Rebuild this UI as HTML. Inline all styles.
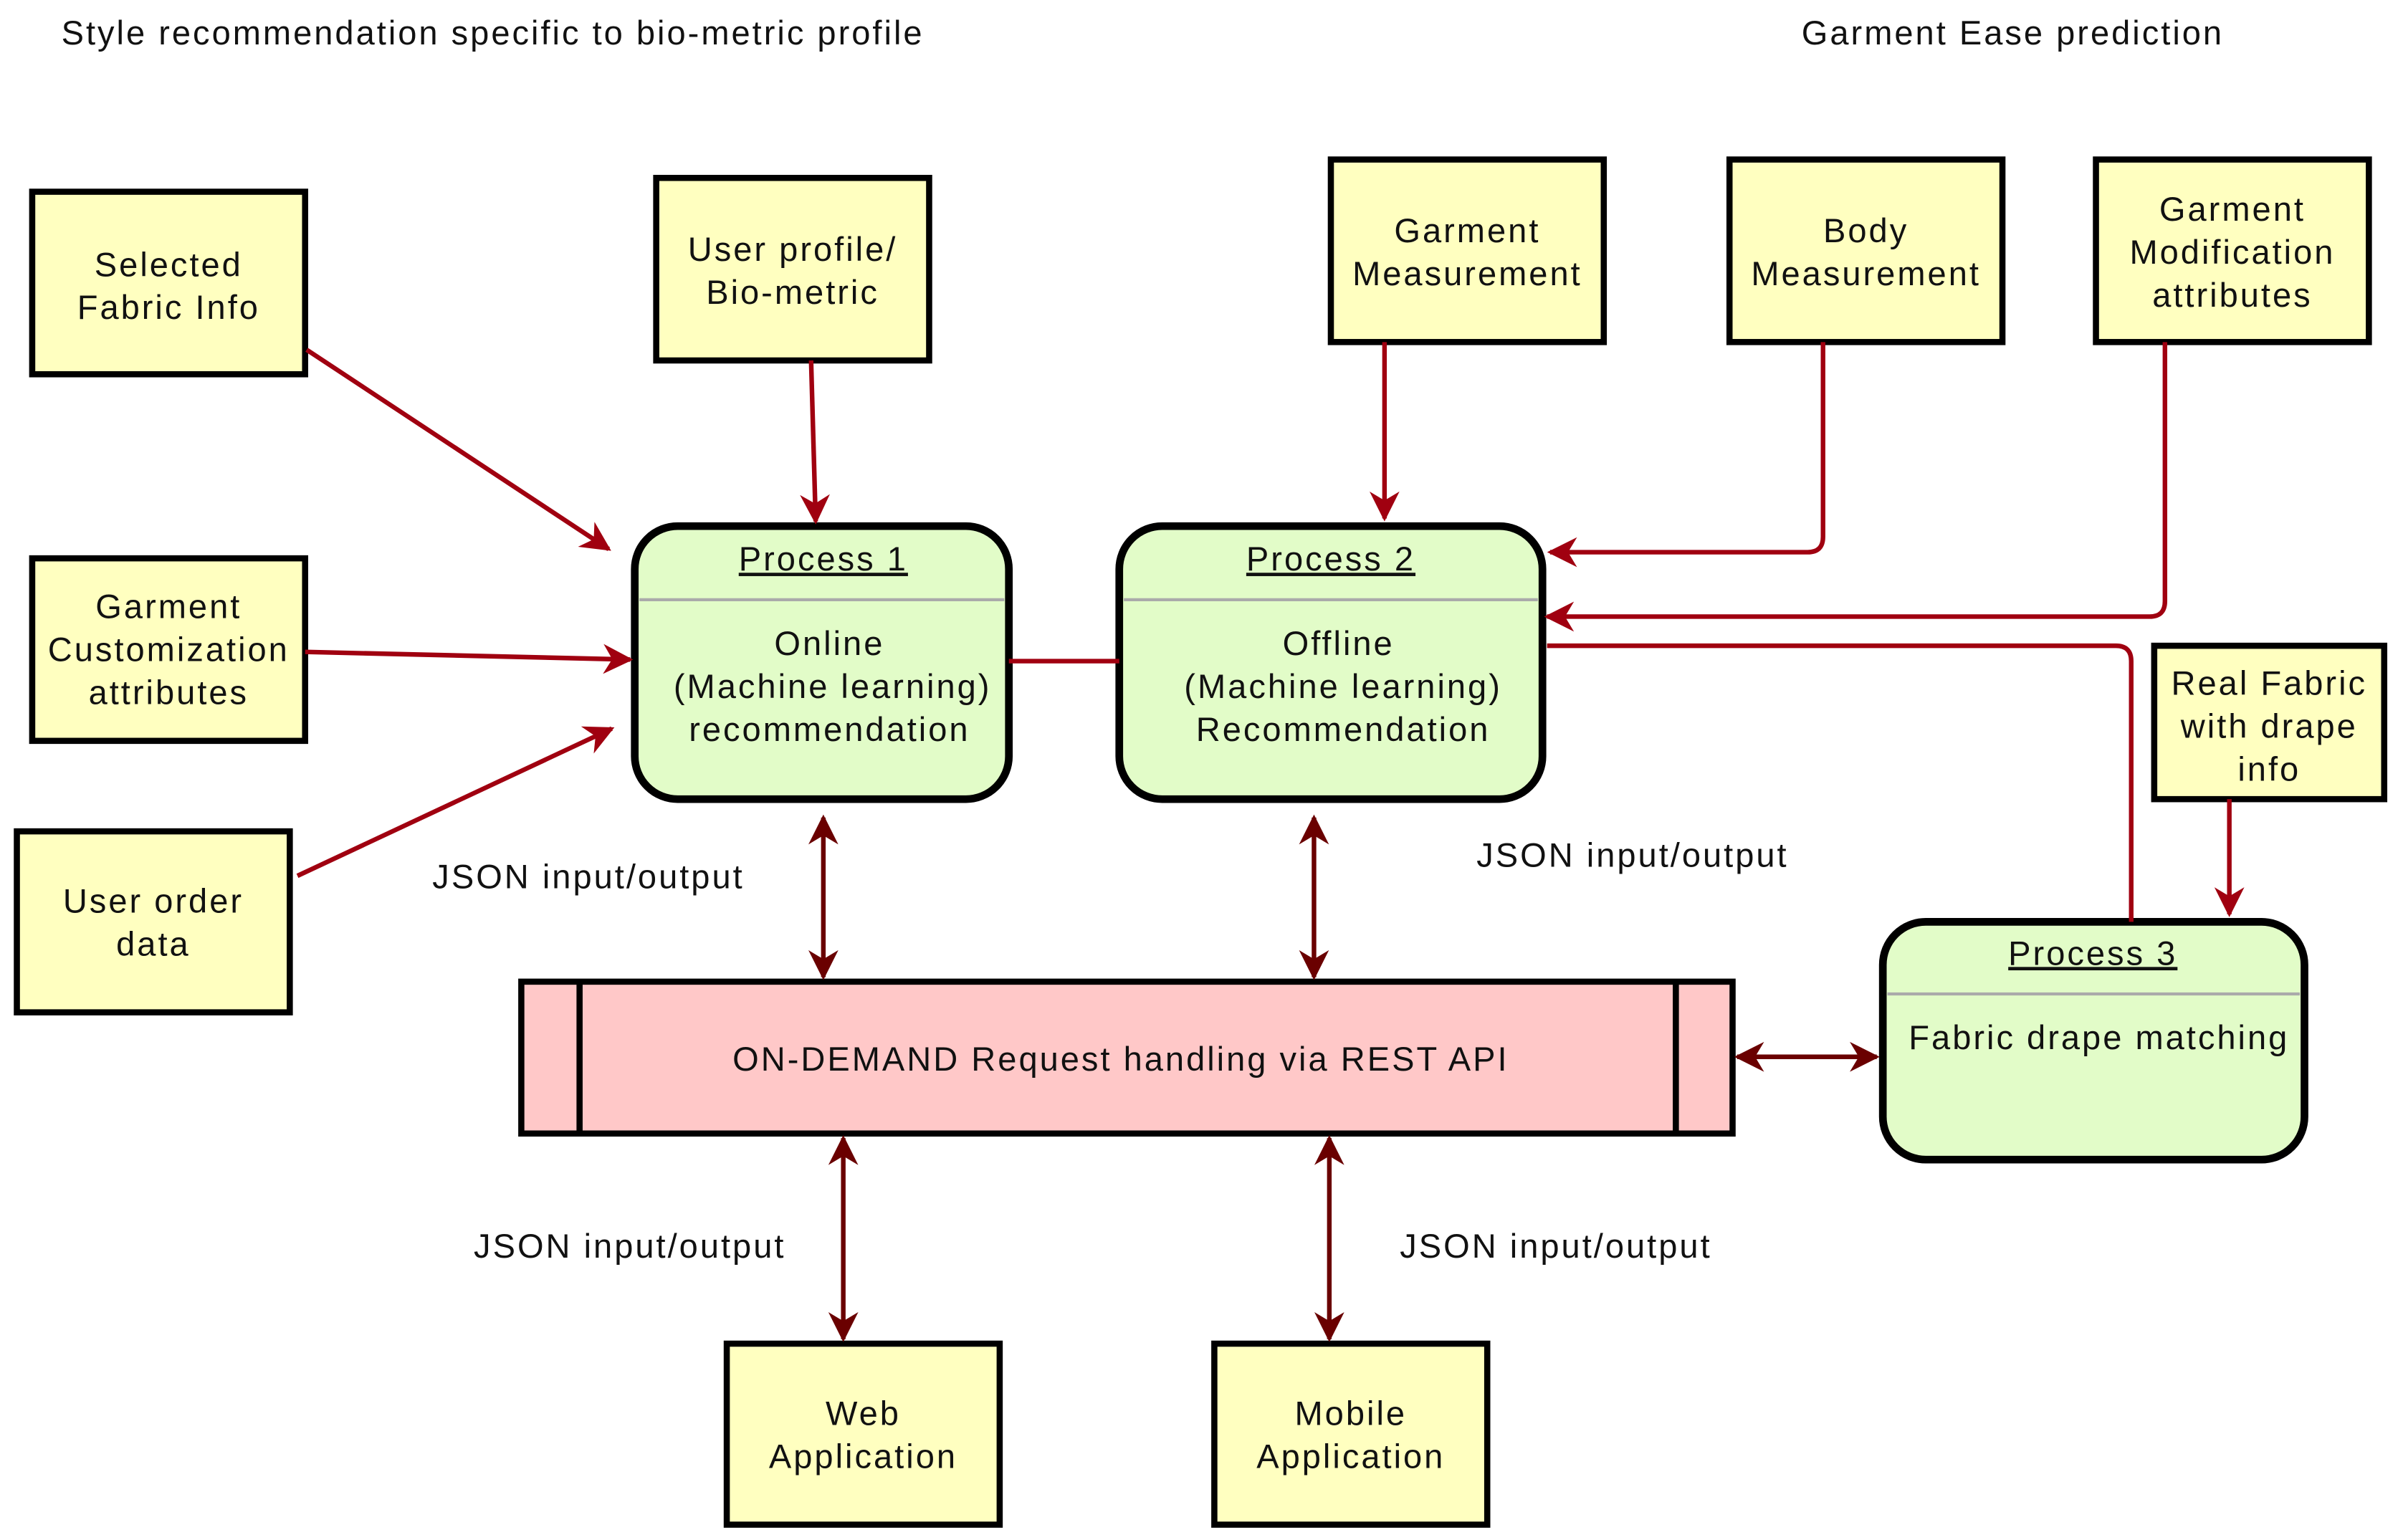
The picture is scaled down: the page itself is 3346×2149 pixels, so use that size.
<!DOCTYPE html>
<html><head><meta charset="utf-8"><style>
html,body{margin:0;padding:0;background:#fff;}
svg{display:block;}
text{font-family:"Liberation Sans",sans-serif;font-size:22px;letter-spacing:1.4px;fill:#111;}
</style></head><body>
<svg width="3346" height="2149" viewBox="0 0 1564 1004" preserveAspectRatio="none" xmlns="http://www.w3.org/2000/svg">
<defs>
<marker id="a" viewBox="0 0 10 10" refX="9" refY="5" markerWidth="6.5" markerHeight="6.5" orient="auto-start-reverse" markerUnits="strokeWidth"><path d="M0,0 L10,5 L0,10 L3,5 z" fill="#a00010"/></marker>
<marker id="d" viewBox="0 0 10 10" refX="9" refY="5" markerWidth="6.5" markerHeight="6.5" orient="auto-start-reverse" markerUnits="strokeWidth"><path d="M0,0 L10,5 L0,10 L3,5 z" fill="#6a0000"/></marker>
</defs>
<text x="40" y="29">Style recommendation specific to bio-metric profile</text>
<text x="1175" y="29">Garment Ease prediction</text>

<g fill="#ffffc0" stroke="#000" stroke-width="4">
<rect x="21" y="125" width="178" height="119"/>
<rect x="428" y="116" width="178" height="119"/>
<rect x="868" y="104" width="178" height="119"/>
<rect x="1128" y="104" width="178" height="119"/>
<rect x="1367" y="104" width="178" height="119"/>
<rect x="21" y="364" width="178" height="119"/>
<rect x="11" y="542" width="178" height="118"/>
<rect x="1405" y="421" width="150" height="100"/>
<rect x="474" y="876" width="178" height="118"/>
<rect x="792" y="876" width="178" height="118"/>
</g>
<g text-anchor="middle">
<text x="110" y="180">Selected</text><text x="110" y="208">Fabric Info</text>
<text x="517" y="170">User profile/</text><text x="517" y="198">Bio-metric</text>
<text x="957" y="158">Garment</text><text x="957" y="186">Measurement</text>
<text x="1217" y="158">Body</text><text x="1217" y="186">Measurement</text>
<text x="1456" y="144">Garment</text><text x="1456" y="172">Modification</text><text x="1456" y="200">attributes</text>
<text x="110" y="403">Garment</text><text x="110" y="431">Customization</text><text x="110" y="459">attributes</text>
<text x="100" y="595">User order</text><text x="100" y="623">data</text>
<text x="1480" y="453">Real Fabric</text><text x="1480" y="481">with drape</text><text x="1480" y="509">info</text>
<text x="563" y="929">Web</text><text x="563" y="957">Application</text>
<text x="881" y="929">Mobile</text><text x="881" y="957">Application</text>
</g>

<g fill="#e2fcc8" stroke="#000" stroke-width="5">
<rect x="414" y="343" width="244" height="178" rx="28"/>
<rect x="730" y="343" width="276" height="178" rx="28"/>
<rect x="1228" y="601" width="275" height="155" rx="28"/>
</g>
<g stroke="#aaa" stroke-width="2">
<line x1="417" y1="391" x2="655" y2="391"/>
<line x1="733" y1="391" x2="1003" y2="391"/>
<line x1="1231" y1="648" x2="1500" y2="648"/>
</g>
<g text-anchor="middle">
<text x="537" y="372" text-decoration="underline">Process 1</text>
<text x="541" y="427">Online</text><text x="543" y="455">(Machine learning)</text><text x="541" y="483">recommendation</text>
<text x="868" y="372" text-decoration="underline">Process 2</text>
<text x="873" y="427">Offline</text><text x="876" y="455">(Machine learning)</text><text x="876" y="483">Recommendation</text>
<text x="1365" y="629" text-decoration="underline">Process 3</text>
<text x="1369" y="684">Fabric drape matching</text>
</g>
<line x1="658" y1="431" x2="730" y2="431" stroke="#a00010" stroke-width="3"/>

<rect x="340" y="640" width="790" height="99" fill="#ffc8c8" stroke="#000" stroke-width="4"/>
<line x1="378" y1="640" x2="378" y2="739" stroke="#000" stroke-width="4"/>
<line x1="1093" y1="640" x2="1093" y2="739" stroke="#000" stroke-width="4"/>
<text x="731" y="698" text-anchor="middle">ON-DEMAND Request handling via REST API</text>

<g stroke="#a00010" stroke-width="3" fill="none" marker-end="url(#a)">
<line x1="200" y1="228" x2="397" y2="358"/>
<line x1="529" y1="235" x2="532" y2="340"/>
<line x1="199" y1="425" x2="411" y2="430"/>
<line x1="194" y1="571" x2="399" y2="475"/>
<line x1="903" y1="223" x2="903" y2="338"/>
<path d="M1189,223 V350 Q1189,360 1179,360 H1011"/>
<path d="M1412,223 V392 Q1412,402 1402,402 H1009"/>
<line x1="1454" y1="521" x2="1454" y2="596"/>
</g>
<path d="M1009,421 H1380 Q1390,421 1390,431 V601" stroke="#a00010" stroke-width="3" fill="none"/>

<g stroke="#6a0000" stroke-width="3" fill="none" marker-start="url(#d)" marker-end="url(#d)">
<line x1="537" y1="533" x2="537" y2="637"/>
<line x1="857" y1="533" x2="857" y2="637"/>
<line x1="1133" y1="689" x2="1224" y2="689"/>
<line x1="550" y1="742" x2="550" y2="873"/>
<line x1="867" y1="742" x2="867" y2="873"/>
</g>

<text x="282" y="579">JSON input/output</text>
<text x="963" y="565">JSON input/output</text>
<text x="309" y="820">JSON input/output</text>
<text x="913" y="820">JSON input/output</text>
</svg>
</body></html>
